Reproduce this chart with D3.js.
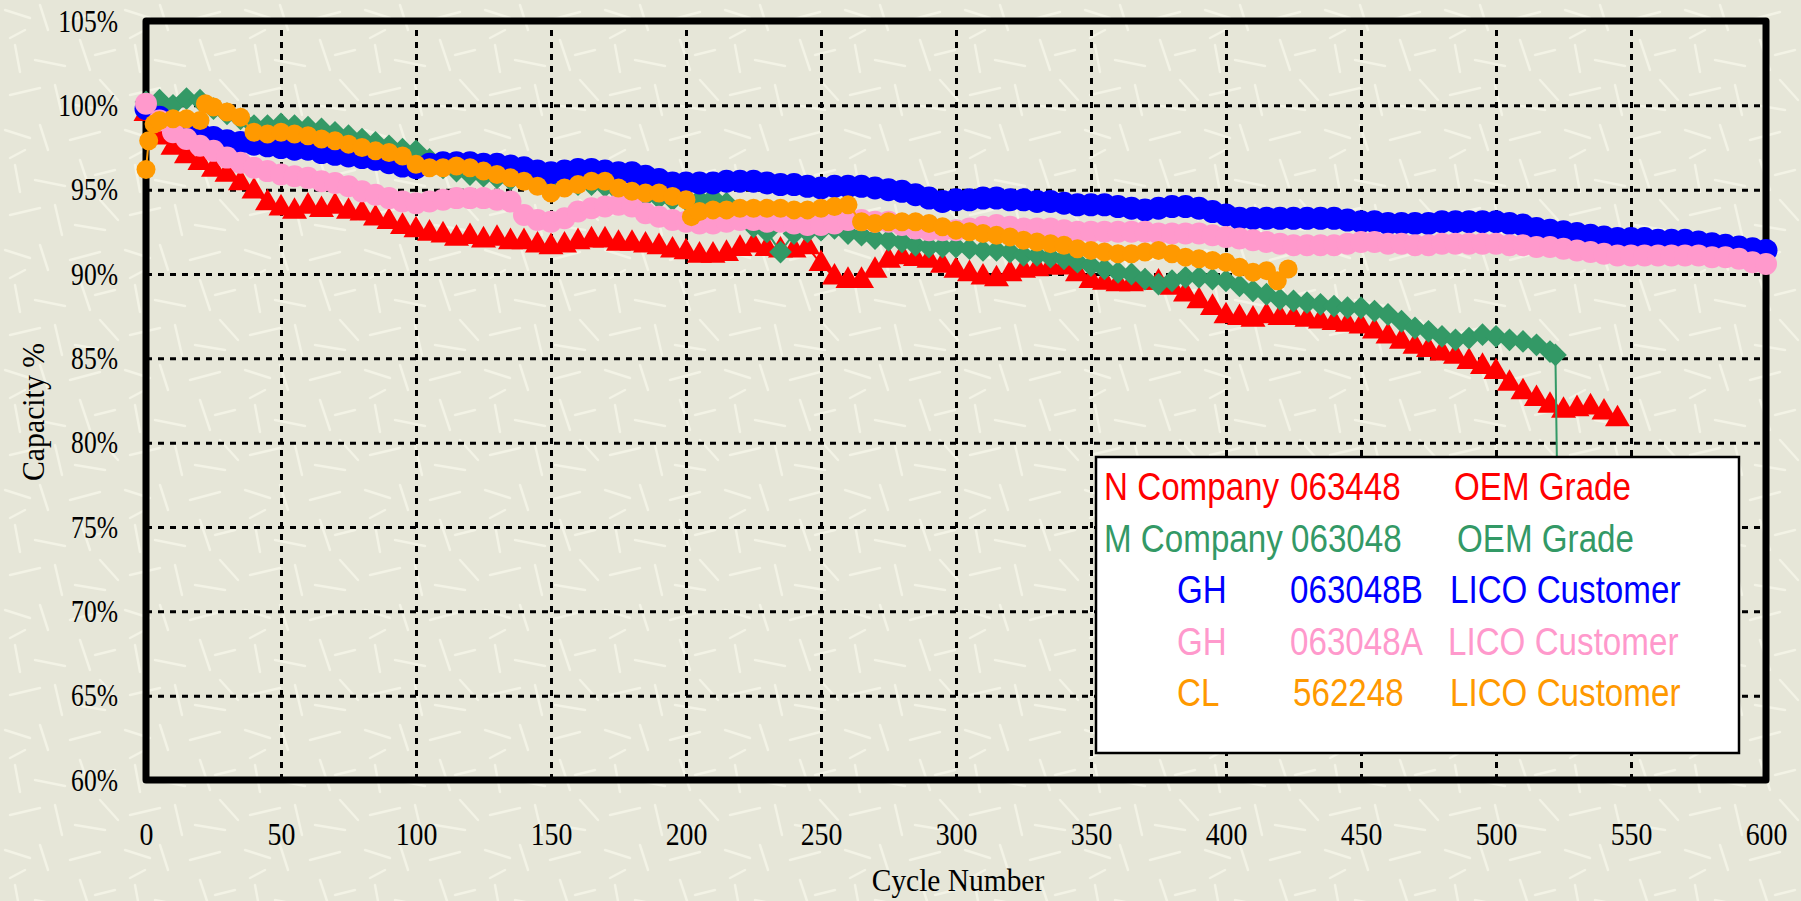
<!DOCTYPE html>
<html>
<head>
<meta charset="utf-8">
<script src="https://cdn.jsdelivr.net/npm/d3@7"></script>
<style>
  body { margin: 0; background: #e6e6d8; }
  svg { display: block; }
</style>
</head>
<body>
<div id="vis"></div>
<script>
// set constants
const FRAME_WIDTH = 1801;
const FRAME_HEIGHT = 901;
const PLOT = {left: 146, right: 1766, top: 21, bottom: 780};

// tick labels
const X_TICKS = [0, 50, 100, 150, 200, 250, 300, 350, 400, 450, 500, 550, 600];
const Y_TICKS = [60, 65, 70, 75, 80, 85, 90, 95, 100, 105];

// legend labels
const LEGEND_MAKER = ["N Company", "M Company", "GH", "GH", "CL"];
const LEGEND_MODEL = ["063448", "063048", "063048B", "063048A", "562248"];
const LEGEND_GRADE = ["OEM Grade", "OEM Grade", "LICO Customer", "LICO Customer", "LICO Customer"];

// series values, [cycle, capacity %]
const N_063448 = [[0,99.5],[5,98.1],[10,97.5],[15,97.0],[20,96.6],[25,96.2],[30,95.9],[35,95.4],[40,94.9],[45,94.2],
  [50,93.9],[55,93.7],[60,94.0],[65,93.8],[70,94.0],[75,93.7],[80,93.6],[85,93.3],[90,93.1],[95,92.8],
  [100,92.6],[105,92.4],[110,92.3],[115,92.1],[120,92.2],[125,92.0],[130,92.1],[135,91.9],[140,91.9],[145,91.7],
  [150,91.6],[155,91.7],[160,91.9],[165,92.0],[170,92.0],[175,91.8],[180,91.8],[185,91.7],[190,91.6],[195,91.4],
  [200,91.3],[205,91.1],[210,91.1],[215,91.2],[220,91.5],[225,91.7],[230,91.5],[235,91.4],[240,91.4],[245,91.6],
  [250,90.6],[255,89.8],[260,89.6],[265,89.6],[270,90.2],[275,90.8],[280,91.0],[285,90.9],[290,90.8],[295,90.5],
  [300,90.2],[305,90.0],[310,89.8],[315,89.7],[320,90.0],[325,90.2],[330,90.3],[335,90.4],[340,90.4],[345,90.0],
  [350,89.6],[355,89.5],[360,89.4],[365,89.4],[370,89.5],[375,89.5],[380,89.2],[385,88.8],[390,88.4],[395,88.0],
  [400,87.5],[405,87.4],[410,87.3],[415,87.5],[420,87.4],[425,87.4],[430,87.3],[435,87.2],[440,87.1],[445,87.0],
  [450,86.9],[455,86.6],[460,86.3],[465,86.0],[470,85.7],[475,85.5],[480,85.3],[485,85.1],[490,84.8],[495,84.5],
  [500,84.2],[505,83.5],[510,83.0],[515,82.6],[520,82.2],[525,81.9],[530,82.0],[535,82.1],[540,81.8],[545,81.4]];

const M_063048 = [[0,100.2],[5,100.3],[10,100.0],[15,100.4],[20,100.3],[25,99.8],[30,99.5],[35,99.2],[40,98.8],[45,98.8],
  [50,98.9],[55,98.8],[60,98.7],[65,98.6],[70,98.4],[75,98.2],[80,98.0],[85,97.8],[90,97.6],[95,97.4],
  [100,97.3],[105,96.8],[110,96.3],[115,96.1],[120,95.9],[125,95.8],[130,95.7],[135,95.6],[140,95.8],[145,95.9],
  [150,95.5],[155,95.3],[160,95.3],[165,95.3],[170,95.2],[175,94.9],[180,94.7],[185,94.6],[190,94.5],[195,94.4],
  [200,94.4],[205,94.4],[210,94.5],[215,94.2],[220,93.4],[225,92.8],[230,92.5],[235,91.3],[240,92.4],[245,92.5],
  [250,92.6],[255,92.7],[260,92.4],[265,92.3],[270,92.1],[275,92.0],[280,91.9],[285,91.7],[290,91.6],[295,91.6],
  [300,91.6],[305,91.5],[310,91.4],[315,91.4],[320,91.3],[325,91.1],[330,91.1],[335,91.0],[340,90.9],[345,90.7],
  [350,90.5],[355,90.3],[360,90.1],[365,90.0],[370,89.7],[375,89.4],[380,89.6],[385,89.8],[390,89.8],[395,89.7],
  [400,89.6],[405,89.3],[410,89.0],[415,88.8],[420,88.5],[425,88.4],[430,88.3],[435,88.2],[440,88.1],[445,88.0],
  [450,88.0],[455,87.8],[460,87.6],[465,87.2],[470,86.8],[475,86.6],[480,86.3],[485,86.1],[490,86.2],[495,86.4],
  [500,86.3],[505,86.1],[510,86.0],[515,85.8],[520,85.4],[522,85.2],[523,74.0]];

const GH_063048B = [[0,99.8],[5,99.3],[10,99.0],[15,98.6],[20,98.3],[25,98.1],[30,97.9],[35,97.8],[40,97.7],[45,97.6],
  [50,97.5],[55,97.4],[60,97.4],[65,97.2],[70,97.1],[75,97.0],[80,96.9],[85,96.8],[90,96.6],[95,96.4],
  [100,96.3],[105,96.5],[110,96.6],[115,96.6],[120,96.6],[125,96.5],[130,96.5],[135,96.4],[140,96.3],[145,96.1],
  [150,96.0],[155,96.1],[160,96.2],[165,96.2],[170,96.1],[175,96.0],[180,96.0],[185,95.8],[190,95.6],[195,95.4],
  [200,95.4],[205,95.4],[210,95.4],[215,95.5],[220,95.5],[225,95.5],[230,95.4],[235,95.3],[240,95.3],[245,95.2],
  [250,95.1],[255,95.2],[260,95.2],[265,95.2],[270,95.1],[275,95.0],[280,94.9],[285,94.7],[290,94.5],[295,94.3],
  [300,94.4],[305,94.4],[310,94.5],[315,94.5],[320,94.4],[325,94.4],[330,94.3],[335,94.3],[340,94.2],[345,94.1],
  [350,94.1],[355,94.1],[360,94.0],[365,93.9],[370,93.8],[375,93.9],[380,94.0],[385,94.0],[390,93.9],[395,93.7],
  [400,93.5],[405,93.3],[410,93.3],[415,93.3],[420,93.3],[425,93.3],[430,93.3],[435,93.3],[440,93.3],[445,93.2],
  [450,93.1],[455,93.1],[460,93.0],[465,93.0],[470,93.0],[475,93.0],[480,93.1],[485,93.1],[490,93.1],[495,93.1],
  [500,93.1],[505,93.0],[510,92.9],[515,92.7],[520,92.6],[525,92.5],[530,92.4],[535,92.3],[540,92.2],[545,92.1],
  [550,92.1],[555,92.1],[560,92.0],[565,92.0],[570,92.0],[575,91.9],[580,91.8],[585,91.7],[590,91.6],[595,91.5],[600,91.4]];

const GH_063048A = [[0,100.1],[5,99.1],[10,98.4],[15,98.0],[20,97.6],[25,97.3],[30,96.9],[35,96.6],[40,96.3],[45,96.1],
  [50,95.9],[55,95.8],[60,95.7],[65,95.5],[70,95.4],[75,95.2],[80,94.9],[85,94.7],[90,94.5],[95,94.3],
  [100,94.2],[105,94.3],[110,94.4],[115,94.5],[120,94.5],[125,94.5],[130,94.4],[135,94.3],[140,93.5],[145,93.2],
  [150,93.1],[155,93.3],[160,93.7],[165,93.9],[170,94.0],[175,94.1],[180,94.0],[185,93.6],[190,93.4],[195,93.2],
  [200,93.1],[205,93.0],[210,93.0],[215,93.1],[220,93.2],[225,93.2],[230,93.1],[235,93.1],[240,93.0],[245,92.9],
  [250,92.9],[255,93.0],[260,93.2],[265,93.2],[270,93.1],[275,93.1],[280,92.9],[285,92.7],[290,92.6],[295,92.6],
  [300,92.6],[305,92.7],[310,92.8],[315,92.9],[320,92.8],[325,92.7],[330,92.7],[335,92.7],[340,92.6],[345,92.5],
  [350,92.5],[355,92.5],[360,92.5],[365,92.5],[370,92.5],[375,92.4],[380,92.4],[385,92.4],[390,92.4],[395,92.3],
  [400,92.2],[405,92.1],[410,92.0],[415,91.9],[420,91.8],[425,91.7],[430,91.7],[435,91.7],[440,91.7],[445,91.8],
  [450,91.9],[455,91.9],[460,91.8],[465,91.8],[470,91.7],[475,91.7],[480,91.8],[485,91.8],[490,91.8],[495,91.8],
  [500,91.8],[505,91.7],[510,91.7],[515,91.6],[520,91.6],[525,91.5],[530,91.4],[535,91.3],[540,91.2],[545,91.1],
  [550,91.1],[555,91.1],[560,91.1],[565,91.1],[570,91.1],[575,91.1],[580,91.0],[585,91.0],[590,90.9],[595,90.7],[600,90.6]];

const CL_562248 = [[0,96.2],[1,97.9],[3,98.9],[5,99.1],[10,99.2],[15,99.2],[20,99.1],[22,100.1],[25,99.9],[30,99.6],
  [35,99.3],[40,98.4],[45,98.3],[50,98.4],[55,98.3],[60,98.2],[65,98.0],[70,97.9],[75,97.7],[80,97.5],
  [85,97.3],[90,97.2],[95,97.0],[100,96.5],[105,96.3],[110,96.3],[115,96.4],[120,96.3],[125,96.1],[130,95.9],
  [135,95.7],[140,95.5],[145,95.2],[150,94.8],[155,95.1],[160,95.3],[165,95.5],[170,95.5],[175,95.1],[180,94.9],
  [185,94.8],[190,94.8],[195,94.6],[200,94.4],[202,93.4],[205,93.7],[210,93.8],[215,93.8],[220,93.9],[225,93.9],
  [230,93.9],[235,93.9],[240,93.8],[245,93.8],[250,93.9],[255,94.0],[260,94.1],[265,93.1],[270,93.0],[275,93.1],
  [280,93.1],[285,93.1],[290,93.0],[295,92.8],[300,92.6],[305,92.5],[310,92.4],[315,92.3],[320,92.2],[325,92.0],
  [330,91.9],[335,91.8],[340,91.7],[345,91.5],[350,91.4],[355,91.3],[360,91.2],[365,91.2],[370,91.3],[375,91.4],
  [380,91.2],[385,91.0],[390,90.9],[395,90.8],[400,90.7],[405,90.4],[410,90.1],[415,90.2],[419,89.6],[423,90.3]];

const SERIES = [
  {values: N_063448, color: "#ff0000", shape: "triangle"},
  {values: M_063048, color: "#339966", shape: "diamond"},
  {values: GH_063048B, color: "#0000ff", shape: "circle", r: 11.5},
  {values: GH_063048A, color: "#ff99cc", shape: "circle", r: 11},
  {values: CL_562248, color: "#ff9900", shape: "circle", r: 9.5}
];

const SERIF = "'Liberation Serif', 'Times New Roman', serif";
const SANS = "'Liberation Sans', Arial, sans-serif";

// make svg frame
const FRAME = d3.select("#vis")
                .append("svg")
                  .attr("width", FRAME_WIDTH)
                  .attr("height", FRAME_HEIGHT);

// background texture
const defs = FRAME.append("defs");
const tex = defs.append("pattern")
                .attr("id", "tex")
                .attr("width", 120)
                .attr("height", 120)
                .attr("patternUnits", "userSpaceOnUse");
tex.append("rect").attr("width", 120).attr("height", 120).attr("fill", "#e6e6d8");
const TEXTURE = [[5,10,30,18],[40,5,48,30],[70,20,100,12],[15,45,20,72],[35,60,65,66],[80,40,90,70],
  [100,80,118,100],[10,95,40,88],[55,85,62,115],[75,105,105,110],[95,55,115,50],[25,30,10,38]];
tex.selectAll("line")
    .data(TEXTURE)
    .join("line")
      .attr("x1", d => d[0]).attr("y1", d => d[1])
      .attr("x2", d => d[2]).attr("y2", d => d[3])
      .attr("stroke", "#f3f3e6")
      .attr("stroke-width", 2.5)
      .attr("stroke-linecap", "round");

FRAME.append("rect")
      .attr("width", FRAME_WIDTH)
      .attr("height", FRAME_HEIGHT)
      .attr("fill", "url(#tex)");

// scales
const X_SCALE = d3.scaleLinear()
                  .domain([0, 600])
                  .range([PLOT.left, PLOT.right]);

const Y_SCALE = d3.scaleLinear()
                  .domain([60, 105])
                  .range([PLOT.bottom, PLOT.top]);

// dotted gridlines
const gridY = FRAME.append("g")
      .attr("transform", "translate(" + PLOT.left + ",0)")
      .call(d3.axisLeft(Y_SCALE)
              .tickValues(Y_TICKS.slice(1, -1))
              .tickSize(-(PLOT.right - PLOT.left))
              .tickFormat(""));
const gridX = FRAME.append("g")
      .attr("transform", "translate(0," + PLOT.bottom + ")")
      .call(d3.axisBottom(X_SCALE)
              .tickValues(X_TICKS.slice(1, -1))
              .tickSize(-(PLOT.bottom - PLOT.top))
              .tickFormat(""));
[gridY, gridX].forEach(g => {
  g.select(".domain").remove();
  g.selectAll("line")
    .attr("stroke", "#000")
    .attr("stroke-width", 3)
    .attr("stroke-dasharray", "6,6");
});

// plot border
FRAME.append("rect")
      .attr("x", PLOT.left)
      .attr("y", PLOT.top)
      .attr("width", PLOT.right - PLOT.left)
      .attr("height", PLOT.bottom - PLOT.top)
      .attr("fill", "none")
      .attr("stroke", "#000")
      .attr("stroke-width", 7)
      .attr("stroke-linejoin", "round");

// y axis labels
const yAxis = FRAME.append("g")
      .attr("transform", "translate(" + PLOT.left + ",0)")
      .call(d3.axisLeft(Y_SCALE)
              .tickValues(Y_TICKS)
              .tickSize(0)
              .tickPadding(35)
              .tickFormat(d => d + "%"));
yAxis.select(".domain").remove();
yAxis.selectAll("text")
      .attr("font-family", SERIF)
      .attr("font-size", 32)
      .attr("fill", "#000")
      .attr("transform", "scale(0.8,1)");

// x axis labels
const xAxis = FRAME.append("g")
      .attr("transform", "translate(0," + PLOT.bottom + ")")
      .call(d3.axisBottom(X_SCALE)
              .tickValues(X_TICKS)
              .tickSize(0)
              .tickPadding(42));
xAxis.select(".domain").remove();
xAxis.selectAll("text")
      .attr("font-family", SERIF)
      .attr("font-size", 32)
      .attr("fill", "#000")
      .attr("transform", "scale(0.87,1)");

// axis titles
FRAME.append("text")
      .attr("transform", "translate(44,412) rotate(-90) scale(0.93,1)")
      .attr("text-anchor", "middle")
      .attr("font-family", SERIF)
      .attr("font-size", 32)
      .text("Capacity %");

FRAME.append("text")
      .attr("transform", "translate(958,891) scale(0.92,1)")
      .attr("text-anchor", "middle")
      .attr("font-family", SERIF)
      .attr("font-size", 32)
      .text("Cycle Number");

// series lines and markers
const line = d3.line()
               .x(d => X_SCALE(d[0]))
               .y(d => Y_SCALE(d[1]));

SERIES.forEach(s => {
  const g = FRAME.append("g");

  g.append("path")
    .datum(s.values)
    .attr("d", line)
    .attr("fill", "none")
    .attr("stroke", s.color)
    .attr("stroke-width", 2);

  if (s.shape === "circle") {
    g.selectAll("circle")
      .data(s.values)
      .join("circle")
        .attr("cx", d => X_SCALE(d[0]))
        .attr("cy", d => Y_SCALE(d[1]))
        .attr("r", s.r)
        .attr("fill", s.color);
  } else {
    const sym = s.shape === "triangle"
      ? d3.symbol(d3.symbolTriangle, 270)
      : d3.symbol(d3.symbolSquare, 260);
    const rot = s.shape === "triangle" ? "" : " rotate(45)";
    g.selectAll("path.mark")
      .data(s.values)
      .join("path")
        .attr("class", "mark")
        .attr("d", sym)
        .attr("transform", d => "translate(" + X_SCALE(d[0]) + "," + Y_SCALE(d[1]) + ")" + rot)
        .attr("fill", s.color);
  }
});

// legend box
const LEGEND = {x: 1096, y: 457, w: 643, h: 296, row: 51.5, base: 500};
FRAME.append("rect")
      .attr("x", LEGEND.x)
      .attr("y", LEGEND.y)
      .attr("width", LEGEND.w)
      .attr("height", LEGEND.h)
      .attr("fill", "#fff")
      .attr("stroke", "#000")
      .attr("stroke-width", 2.5);

const COL1 = [1104, 1104, 1177, 1177, 1177];
const COL2 = [1290, 1291, 1290, 1290, 1293];
const COL3 = [1454, 1457, 1450, 1448, 1450];

[LEGEND_MAKER, LEGEND_MODEL, LEGEND_GRADE].forEach((labels, c) => {
  const cols = [COL1, COL2, COL3][c];
  FRAME.append("g")
    .selectAll("text")
    .data(labels)
    .join("text")
      .attr("transform", (d, i) => "translate(" + cols[i] + "," + (LEGEND.base + i * LEGEND.row) + ") scale(0.84,1)")
      .attr("font-family", SANS)
      .attr("font-size", 39.5)
      .attr("fill", (d, i) => SERIES[i].color)
      .text(d => d);
});
</script>
</body>
</html>
